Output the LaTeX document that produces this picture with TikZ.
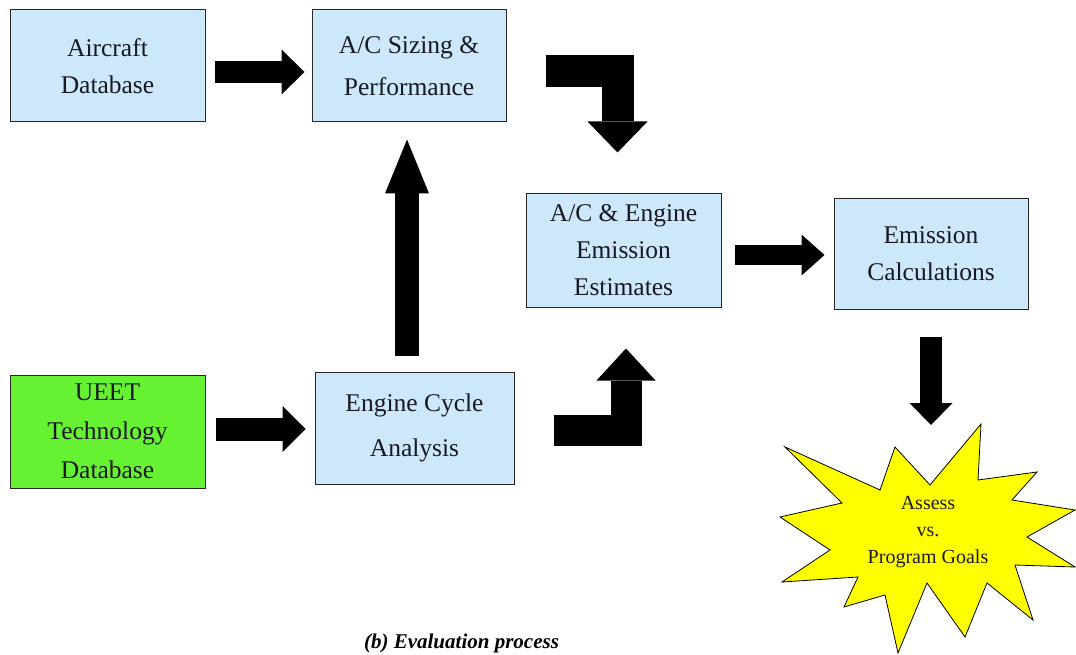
\documentclass[tikz,border=0pt]{standalone}
\usepackage{fontspec}
\setmainfont{Liberation Serif}
\usetikzlibrary{arrows.meta,calc}
\definecolor{boxblue}{RGB}{204,232,250}
\definecolor{boxgreen}{RGB}{102,242,51}
\definecolor{staryellow}{RGB}{255,255,0}
\definecolor{txt}{RGB}{25,25,35}
\begin{document}
\begin{tikzpicture}[x=1pt,y=-1pt,
  box/.style={draw=black!85, line width=1pt, fill=boxblue, text=txt, align=center,
    inner sep=0pt, font=\fontsize{25.5}{37}\selectfont},
  barrow/.style n args={3}{draw=black, line width=#1, line join=miter,
    -{Triangle[length=#2, width=#3, line width=0pt]}},
]
\useasboundingbox[fill=white] (0,0) rectangle (1076,655);

% boxes
\node[box, minimum width=195, minimum height=112] (air) at (107.5,66) {Aircraft\\Database};
\node[box, minimum width=194, minimum height=112, font=\fontsize{25.5}{42}\selectfont] (siz) at (409,66) {A/C Sizing \&\\Performance};
\node[box, minimum width=195, minimum height=113] (ace) at (623.5,250.5) {A/C \& Engine\\Emission\\Estimates};
\node[box, minimum width=194, minimum height=110] (emc) at (931,254) {Emission\\Calculations};
\node[box, fill=boxgreen, minimum width=195, minimum height=113, font=\fontsize{25.5}{39}\selectfont] (uee) at (107.5,431.5) {UEET\\Technology\\Database};
\node[box, minimum width=199, minimum height=112, font=\fontsize{25.5}{45}\selectfont] (eng) at (414.5,428) {Engine Cycle\\Analysis};

% star
\filldraw[fill=staryellow, draw=black, line width=0.8pt]
  (785,447) -- (880,490) -- (895,447) -- (930,485) -- (981,424) -- (978,480)
  -- (1037,472) -- (1012,500) -- (1075,510) -- (1027,537) -- (1075,567)
  -- (1015,565) -- (1033,620) -- (987,583) -- (965,637) -- (927,583)
  -- (898,653) -- (885,595) -- (844,607) -- (858,577) -- (782,582)
  -- (830,550) -- (780,517) -- (842,503) -- cycle;
\node[align=center, text=txt, inner sep=0pt, font=\fontsize{20}{27}\selectfont] (goal) at (928,532) {Assess\\vs.\\Program Goals};

% caption
\node[anchor=base, inner sep=0pt, text=black, font=\fontsize{21}{25}\selectfont\bfseries\itshape] (cap) at (461.5,648) {(b) Evaluation process};

% connectors
\draw[barrow={22pt}{23pt}{45pt}] ($(air.east)+(9,6)$) -- ($(siz.west)+(-7,6)$);
\draw[barrow={23pt}{23pt}{46pt}] ($(uee.east)+(10,-2.5)$) -- ($(eng.west)+(-9,1)$);
\draw[barrow={24pt}{54pt}{44pt}] ($(eng.north)+(-7.5,-16)$) -- ($(siz.south)+(-2,17)$);
\draw[barrow={20pt}{23pt}{41pt}] ($(ace.east)+(13,4.5)$) -- ($(emc.west)+(-9,1)$);
\draw[barrow={22pt}{22pt}{43pt}] ($(emc.south)+(0,27)$) -- ($(goal.center)+(3,-107)$);
\draw[barrow={32pt}{31pt}{60pt}] ($(siz.east)+(39,5.5)$) -| ($(ace.north)+(-6,-41)$);
\draw[barrow={31pt}{32pt}{59pt}] ($(eng.east)+(39,2)$) -| ($(ace.south)+(2.5,41)$);
\end{tikzpicture}
\end{document}
